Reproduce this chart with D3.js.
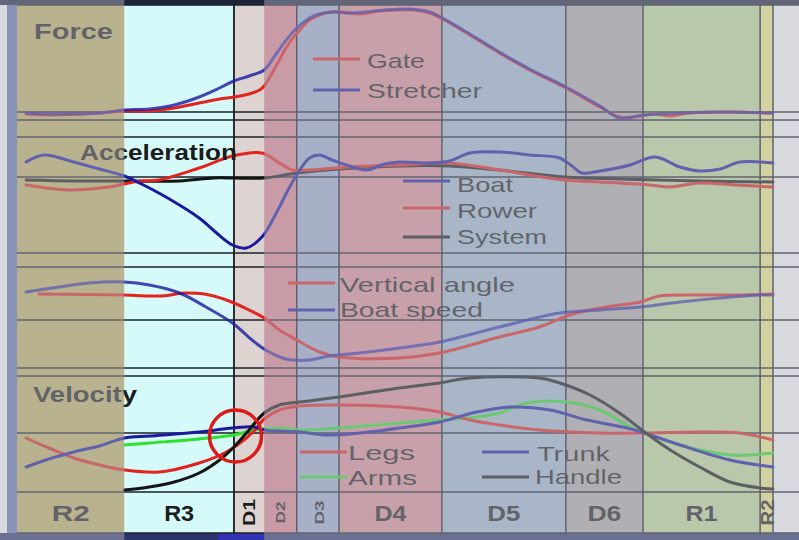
<!DOCTYPE html>
<html>
<head>
<meta charset="utf-8">
<script src="https://cdn.jsdelivr.net/npm/d3@7"></script>
<style>
  html, body { margin: 0; padding: 0; background: #fff; overflow: hidden; }
  svg { display: block; font-family: "Liberation Sans", Arial, sans-serif; }
</style>
</head>
<body>
<svg id="chart" width="799" height="540"></svg>
<script>
// Rowing stroke phases, time in % of the stroke cycle
const phaseNames  = ["R2", "R3", "D1", "D2", "D3", "D4", "D5", "D6", "R1", "R2"];
const phaseStarts = [0, 14.2, 28.7, 32.7, 37.0, 42.6, 56.2, 72.6, 82.8, 98.3];
const cycleEnd = 100;
const focusPhases = ["R3", "D1"];          // phases shown undimmed

// Force (arbitrary units): [time %, value]
const gate = [[1.2,-2],[4.2,-3],[10.9,-1],[14.2,1],[17.5,1],[20.8,4],[24.1,9],[26.8,13],[28.7,15],[30.7,18],[32.1,22],[32.7,26],[33.6,37],[34.7,52],[36.0,69],[37.4,82],[38.7,92],[40.0,97],[41.3,100],[43.0,100],[45.3,98],[47.9,101],[50.6,102],[52.6,102],[54.6,99],[56.3,93],[59.9,77],[63.8,59],[67.8,42],[72.6,24],[77.1,5],[79.7,-5],[82.4,-4],[84.4,-2],[86.4,-4],[89.0,-1],[94.3,0],[100,-1]];
const stretcher = [[1.2,-1],[4.2,-2],[10.9,-1],[14.2,2],[17.5,3],[20.8,7],[24.1,15],[26.8,24],[28.7,31],[30.7,36],[32.7,42],[34.0,55],[35.4,70],[37.0,84],[38.7,94],[40.0,98],[42.0,100],[44.0,99],[46.0,100],[48.6,102],[51.9,103],[54.6,100],[56.3,94],[59.9,78],[63.8,60],[67.8,43],[72.6,25],[77.1,6],[79.7,-6],[83.0,-3],[87.7,-1],[93.0,0],[100,-1]];

// Acceleration (m/s²)
const boatAcc = [[1.2,1.5],[3.6,2.2],[7.5,1.5],[10.9,0.8],[14.2,0.1],[16.2,-0.6],[19.7,-2.0],[24.1,-4.1],[26.4,-5.6],[28.5,-6.8],[30.3,-7.1],[32.4,-6.0],[34.3,-3.6],[36.0,-1.1],[37.4,0.7],[38.7,1.9],[40.0,2.2],[41.7,1.7],[44.0,1.1],[46.2,0.7],[48.6,1.3],[50.6,1.5],[54.6,1.4],[57.2,1.6],[59.9,2.4],[63.8,2.5],[67.8,2.2],[71.8,1.9],[73.4,1.1],[74.7,0.4],[77.1,0.6],[81.1,1.2],[84.4,2.0],[87.7,1.0],[90.3,0.6],[93.0,0.8],[95.6,1.5],[100,1.4]];
const rowerAcc = [[1.2,-0.8],[6.9,-1.3],[12.2,-1.0],[16.2,-0.4],[18.8,-0.3],[24.1,0.9],[28.5,2.1],[32.4,2.4],[34.7,1.4],[36.4,0.7],[38.7,0.7],[44.0,1.0],[50.6,1.2],[57.2,1.4],[63.8,0.7],[72.5,-0.3],[77.1,-0.5],[83.7,-0.8],[86.4,-1.0],[90.3,-0.6],[95.0,-0.8],[100,-1.0]];
const systemAcc = [[1.2,-0.3],[7.5,-0.4],[14.2,-0.4],[21.5,-0.4],[26.0,-0.1],[28.7,-0.1],[32.7,-0.1],[37.0,0.4],[42.6,0.8],[50.6,1.1],[57.2,1.1],[63.8,0.7],[72.5,0.0],[79.7,-0.2],[90.3,-0.4],[100,-0.5]];

// Oar vertical angle and boat speed (arbitrary units)
const vertAngle = [[2.9,7.4],[14.2,7.3],[19.2,7.2],[22.1,7.5],[24.8,7.4],[27.7,6.8],[30.7,5.8],[32.9,4.9],[34.7,3.8],[37.0,2.8],[40.0,1.6],[42.6,1.1],[50.6,1.0],[55.9,1.5],[63.8,3.1],[69.1,4.1],[73.1,5.3],[77.1,6.0],[82.4,6.6],[85.0,7.2],[90.3,7.3],[95.6,7.3],[100,7.4]];
const boatSpeed = [[1.2,7.6],[5.6,8.1],[9.5,8.5],[14.2,8.6],[17.5,8.3],[21.5,7.5],[25.0,6.1],[28.5,4.5],[31.1,2.8],[32.9,1.8],[35.1,1.0],[36.4,0.8],[38.7,0.8],[41.3,1.2],[45.3,1.5],[50.6,2.0],[55.9,2.6],[63.8,4.1],[71.8,5.5],[77.1,5.8],[82.4,6.1],[87.7,6.6],[93.0,7.0],[98.3,7.3],[100,7.3]];

// Segment velocities (m/s)
const legs = [[1.2,-0.25],[4.2,-0.75],[7.5,-1.25],[10.9,-1.6],[14.2,-1.85],[18.8,-1.95],[24.1,-1.5],[27.7,-0.95],[31.1,0.0],[32.7,0.7],[34.7,1.15],[37.4,1.35],[42.6,1.4],[50.6,1.3],[55.9,1.05],[59.9,0.65],[63.8,0.4],[69.1,0.15],[77.1,0.0],[83.0,0.0],[90.3,0.05],[95.6,0.0],[100,-0.35]];
const arms = [[14.2,-0.6],[17.5,-0.5],[24.1,-0.3],[28.7,-0.1],[31.4,0.15],[34.7,0.25],[37.4,0.15],[42.6,0.25],[50.6,0.5],[55.9,0.65],[59.9,0.75],[63.8,1.0],[67.4,1.5],[72.6,1.55],[77.1,1.15],[81.1,0.3],[83.0,0.0],[87.7,-0.6],[94.3,-1.1],[100,-1.0]];
const trunk = [[1.2,-1.7],[4.2,-1.3],[7.5,-0.95],[10.9,-0.65],[14.2,-0.25],[17.5,-0.15],[24.1,0.05],[28.5,0.25],[31.4,0.3],[32.7,0.15],[37.4,0.05],[41.3,-0.1],[45.3,0.0],[50.6,0.25],[55.9,0.55],[60.8,1.05],[65.2,1.3],[70.5,1.15],[75.4,0.65],[80.7,0.25],[83.0,0.0],[87.7,-0.6],[94.3,-1.35],[100,-1.7]];
const handle = [[14.2,-2.85],[17.5,-2.7],[20.8,-2.45],[24.1,-2.0],[26.8,-1.35],[28.7,-0.7],[30.7,0.15],[32.7,1.0],[34.7,1.4],[37.4,1.55],[42.6,1.8],[50.6,2.25],[55.9,2.5],[59.9,2.75],[69.1,2.75],[71.8,2.5],[75.8,1.9],[79.7,1.0],[83.0,0.05],[86.4,-0.85],[90.3,-1.7],[94.3,-2.45],[98.3,-2.75],[100,-2.8]];

// Catch point marked on the velocity panel
const catchMark = { t: 28.9, v: -0.15 };

// ---------- styles ----------
const phaseFill = ["#c0b562", "#d6fafa", "#ddd4d2", "#de8890", "#a2b1d1", "#df9298", "#a2bcd1", "#b1b1ab", "#c2df98", "#f2f284"];
const RED = "#e2231e", BLUE = "#1a1aa0", BLACK = "#141414", GREEN = "#2fe02f";

const svg = d3.select("#chart");
const W = 799, H = 540;

const x = d3.scaleLinear().domain([0, cycleEnd]).range([17, 773]);

const panels = {
  force: { y: d3.scaleLinear().domain([-8, 107]).range([120, 5]),    top: 5,   bottom: 120 },
  acc:   { y: d3.scaleLinear().domain([-7.6, 4.0]).range([253, 137]), top: 137, bottom: 253 },
  angle: { y: d3.scaleLinear().domain([0, 10.1]).range([368, 267]),   top: 267, bottom: 368 },
  vel:   { y: d3.scaleLinear().domain([-2.95, 2.85]).range([492, 376]), top: 376, bottom: 492 }
};
const labelRow = { top: 492, bottom: 533 };

// page frame
svg.append("rect").attr("width", W).attr("height", H).attr("fill", "#ffffff");
svg.append("rect").attr("x", 7).attr("y", 0).attr("width", 10).attr("height", H).attr("fill", "#6678b0");

// phase bands
const phases = phaseNames.map((n, i) => ({
  name: n, start: phaseStarts[i], end: i < phaseStarts.length - 1 ? phaseStarts[i + 1] : cycleEnd, fill: phaseFill[i]
}));
svg.append("g").selectAll("rect").data(phases).join("rect")
  .attr("x", d => x(d.start)).attr("width", d => x(d.end) - x(d.start))
  .attr("y", 5).attr("height", labelRow.bottom - 5)
  .attr("fill", d => d.fill);

// top and bottom strips
svg.append("rect").attr("x", 0).attr("y", 0).attr("width", W).attr("height", 5).attr("fill", "#1c2438");
svg.append("rect").attr("x", 0).attr("y", labelRow.bottom).attr("width", W).attr("height", H - labelRow.bottom).attr("fill", "#2c3468");
svg.append("rect").attr("x", x(26.6)).attr("y", labelRow.bottom + 1).attr("width", x(32.7) - x(26.6)).attr("height", H - labelRow.bottom).attr("fill", "#3232b4");

// horizontal rules: panel frames and zero lines
const hLines = [
  panels.force.top, panels.force.y(0), panels.force.bottom,
  panels.acc.top, panels.acc.y(0), panels.acc.bottom,
  panels.angle.top, panels.angle.y(4.8), panels.angle.bottom,
  panels.vel.top, panels.vel.y(0), panels.vel.bottom,
  labelRow.bottom
];
svg.append("g").selectAll("line").data(hLines).join("line")
  .attr("x1", 17).attr("x2", W).attr("y1", d => d).attr("y2", d => d)
  .attr("stroke", "#1a2028").attr("stroke-width", 1.6);

// vertical rules at phase boundaries
const vLines = phaseStarts.filter((s, i) => i >= 2 && i !== 3).concat([cycleEnd]);
svg.append("g").selectAll("line").data(vLines).join("line")
  .attr("x1", d => x(d)).attr("x2", d => x(d))
  .attr("y1", 5).attr("y2", labelRow.bottom)
  .attr("stroke", "#161c20").attr("stroke-width", d => d === phaseStarts[2] ? 1.8 : 1.5);

// curves
const curveGroup = svg.append("g").attr("fill", "none")
  .attr("stroke-linejoin", "round").attr("stroke-linecap", "round");
function drawSeries(data, panel, color, opacity) {
  const line = d3.line().x(d => x(d[0])).y(d => panel.y(d[1])).curve(d3.curveCatmullRom.alpha(0.5));
  curveGroup.append("path").attr("d", line(data)).attr("stroke", color)
    .attr("stroke-width", 3).attr("stroke-opacity", opacity || 1);
}
drawSeries(gate, panels.force, RED);
drawSeries(stretcher, panels.force, BLUE, 0.8);
drawSeries(systemAcc, panels.acc, BLACK);
drawSeries(rowerAcc, panels.acc, RED);
drawSeries(boatAcc, panels.acc, BLUE);
drawSeries(vertAngle, panels.angle, RED);
drawSeries(boatSpeed, panels.angle, BLUE, 0.8);
drawSeries(arms, panels.vel, GREEN);
drawSeries(legs, panels.vel, RED);
drawSeries(trunk, panels.vel, BLUE);
drawSeries(handle, panels.vel, BLACK);

// catch marker
svg.append("circle")
  .attr("cx", x(catchMark.t)).attr("cy", panels.vel.y(catchMark.v)).attr("r", 26)
  .attr("fill", "none").attr("stroke", "#e01818").attr("stroke-width", 3.5);

// text helper (text is set in a horizontally stretched face)
function label(g, str, opts) {
  const t = g.append("text").text(str)
    .attr("x", opts.x).attr("y", opts.y)
    .attr("font-size", opts.size).attr("font-weight", opts.bold ? "bold" : "normal")
    .attr("fill", opts.fill || "#1c1c1c");
  if (opts.len) t.attr("textLength", opts.len).attr("lengthAdjust", "spacingAndGlyphs");
  if (opts.anchor) t.attr("text-anchor", opts.anchor);
  if (opts.transform) t.attr("transform", opts.transform);
  return t;
}

const textG = svg.append("g");
// panel titles
label(textG, "Force",        { x: 34, y: 39,  size: 22, bold: true, len: 79 });
label(textG, "Acceleration", { x: 80, y: 160, size: 22, bold: true, len: 157 });
label(textG, "Velocity",     { x: 33, y: 402, size: 22, bold: true, len: 104 });

// legends
const legends = [
  { name: "Gate",           color: RED,   lx: 313, ly: 59,  tx: 367, ty: 68,  len: 58 },
  { name: "Stretcher",      color: BLUE,  lx: 313, ly: 90,  tx: 367, ty: 98,  len: 115 },
  { name: "Boat",           color: BLUE,  lx: 403, ly: 181, tx: 457, ty: 192, len: 56 },
  { name: "Rower",          color: RED,   lx: 403, ly: 208, tx: 457, ty: 218, len: 80 },
  { name: "System",         color: BLACK, lx: 403, ly: 237, tx: 457, ty: 244, len: 90 },
  { name: "Vertical angle", color: RED,   lx: 288, ly: 283, tx: 340, ty: 292, len: 175 },
  { name: "Boat speed",     color: BLUE,  lx: 288, ly: 310, tx: 340, ty: 317, len: 143 },
  { name: "Legs",           color: RED,   lx: 300, ly: 452, tx: 348, ty: 460, len: 67 },
  { name: "Arms",           color: GREEN, lx: 300, ly: 477, tx: 348, ty: 485, len: 69 },
  { name: "Trunk",          color: BLUE,  lx: 482, ly: 452, tx: 537, ty: 461, len: 73 },
  { name: "Handle",         color: BLACK, lx: 482, ly: 477, tx: 535, ty: 484, len: 87 }
];
const legG = svg.append("g");
legends.forEach(d => {
  legG.append("line").attr("x1", d.lx).attr("x2", d.lx + 47).attr("y1", d.ly).attr("y2", d.ly)
    .attr("stroke", d.color).attr("stroke-width", 3);
  label(legG, d.name, { x: d.tx, y: d.ty, size: 21, len: d.len });
});

// phase labels along the bottom row
const phaseLabelStyle = [
  { len: 38, size: 22 }, { len: 30, size: 22 }, { rot: true, size: 16, len: 27, dx: 6 },
  { rot: true, size: 13, len: 22, dx: 5 }, { rot: true, size: 13, len: 24, dx: 6 },
  { len: 32, size: 22 }, { len: 33, size: 22 }, { len: 34, size: 22 }, { len: 32, size: 22 },
  { rot: true, size: 18, len: 26, dx: 7 }
];
const rowMid = (labelRow.top + labelRow.bottom) / 2;
phases.forEach((p, i) => {
  const s = phaseLabelStyle[i];
  const cx = (x(p.start) + x(p.end)) / 2;
  if (s.rot) {
    label(textG, p.name, { x: 0, y: 0, size: s.size, bold: true, len: s.len, anchor: "middle",
      transform: `translate(${cx + s.dx},${rowMid}) rotate(-90)` });
  } else {
    label(textG, p.name, { x: cx, y: rowMid + 8, size: s.size, bold: true, len: s.len, anchor: "middle" });
  }
});

// dim everything outside the focus phases
const f0 = x(phaseStarts[phaseNames.indexOf(focusPhases[0])]);
const f1 = x(phaseStarts[phaseNames.indexOf(focusPhases[1]) + 1]);
const dimG = svg.append("g").attr("fill", "#afafbe").attr("fill-opacity", 0.48);
dimG.append("rect").attr("x", 0).attr("y", 0).attr("width", f0).attr("height", H);
dimG.append("rect").attr("x", f1).attr("y", 0).attr("width", W - f1).attr("height", H);
</script>
</body>
</html>
